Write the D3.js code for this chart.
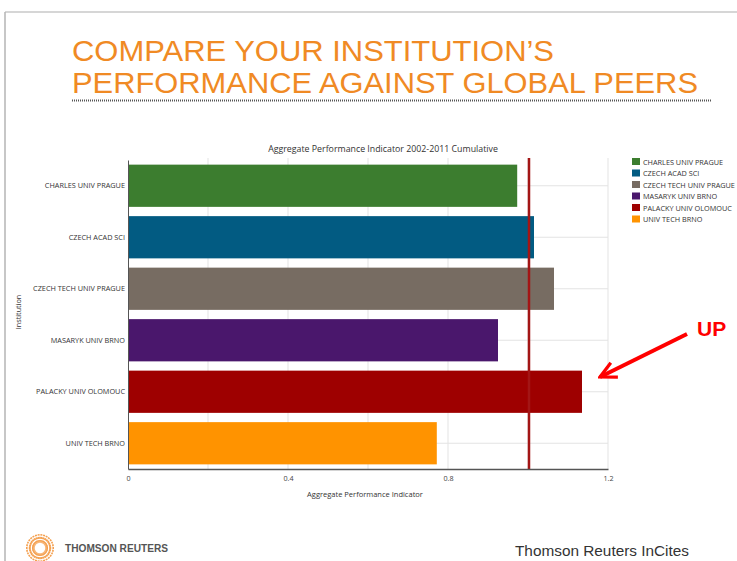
<!DOCTYPE html>
<html>
<head>
<meta charset="utf-8">
<script src="https://cdn.jsdelivr.net/npm/d3@7"></script>
<style>
  body { margin: 0; background: #fff; }
  svg { display: block; }
</style>
</head>
<body>
<div id="chart"></div>
<script>
// data
const institutions = ["CHARLES UNIV PRAGUE", "CZECH ACAD SCI", "CZECH TECH UNIV PRAGUE",
                      "MASARYK UNIV BRNO", "PALACKY UNIV OLOMOUC", "UNIV TECH BRNO"];
const values = [0.973, 1.015, 1.065, 0.925, 1.135, 0.772];
const barColors = ["#3c7d2f", "#025b82", "#776c62", "#4a176c", "#9e0000", "#ff9300"];
const xTicks = [0, 0.4, 0.8, 1.2];
const baseline = 1.0;

const W = 737, H = 561;
const svg = d3.select("#chart").append("svg")
    .attr("width", W).attr("height", H);

// slide frame
svg.append("line").attr("x1", 5).attr("x2", W).attr("y1", 12).attr("y2", 12)
    .attr("stroke", "#c8c8c8").attr("stroke-width", 1.5);
svg.append("line").attr("x1", 5).attr("x2", 5).attr("y1", 12).attr("y2", H)
    .attr("stroke", "#b4b4b4").attr("stroke-width", 1.5);

// slide heading
const head = svg.append("g")
    .attr("font-family", "'Liberation Sans Narrow', 'Liberation Sans', Arial, sans-serif")
    .attr("fill", "#f08a24").attr("font-size", 29);
head.append("text").attr("x", 72).attr("y", 61)
    .attr("textLength", 482).attr("lengthAdjust", "spacingAndGlyphs")
    .text("COMPARE YOUR INSTITUTION\u2019S");
head.append("text").attr("x", 72).attr("y", 93)
    .attr("textLength", 626).attr("lengthAdjust", "spacingAndGlyphs")
    .text("PERFORMANCE AGAINST GLOBAL PEERS");
svg.append("line").attr("x1", 72).attr("x2", 712).attr("y1", 100.5).attr("y2", 100.5)
    .attr("stroke", "#555").attr("stroke-width", 2).attr("stroke-dasharray", "1,1");

// chart area
const margin = {top: 160, left: 128, right: 129, bottom: 92};
const x = d3.scaleLinear().domain([0, 1.2]).range([margin.left, W - margin.right]);
const y = d3.scaleBand().domain(institutions)
    .range([margin.top, H - margin.bottom])
    .paddingInner(0.18).paddingOuter(0.09);

const chartFont = "'Open Sans', 'DejaVu Sans', sans-serif";

svg.append("text")
    .attr("x", 383).attr("y", 152)
    .attr("text-anchor", "middle")
    .attr("font-family", chartFont).attr("font-size", 8.8).attr("fill", "#333")
    .text("Aggregate Performance Indicator 2002-2011 Cumulative");

// gridlines
svg.append("g").selectAll("line")
    .data(d3.range(0.2, 1.21, 0.2))
    .join("line")
    .attr("x1", d => x(d)).attr("x2", d => x(d))
    .attr("y1", margin.top - 2).attr("y2", H - margin.bottom)
    .attr("stroke", "#e3e3e3");
svg.append("g").selectAll("line")
    .data(institutions)
    .join("line")
    .attr("x1", x(0)).attr("x2", x(1.2))
    .attr("y1", d => y(d) + y.bandwidth() / 2).attr("y2", d => y(d) + y.bandwidth() / 2)
    .attr("stroke", "#e3e3e3");

// bars
svg.append("g").selectAll("rect")
    .data(institutions)
    .join("rect")
    .attr("x", x(0))
    .attr("y", d => y(d))
    .attr("width", (d, i) => x(values[i]) - x(0))
    .attr("height", y.bandwidth())
    .attr("fill", (d, i) => barColors[i]);

// reference line at 1.0
svg.append("line")
    .attr("x1", x(baseline) + 1).attr("x2", x(baseline) + 1)
    .attr("y1", margin.top - 2).attr("y2", H - margin.bottom)
    .attr("stroke", "#a31515").attr("stroke-width", 2.5);

// axes
const xAxis = svg.append("g")
    .attr("transform", `translate(0,${H - margin.bottom})`)
    .call(d3.axisBottom(x).tickValues(xTicks).tickSize(0).tickPadding(7).tickFormat(d3.format("")));
xAxis.select(".domain").attr("stroke", "#555").attr("stroke-width", 1.5);
xAxis.selectAll("text").attr("font-family", chartFont).attr("font-size", 7.2).attr("fill", "#444");

const yAxis = svg.append("g")
    .attr("transform", `translate(${margin.left},0)`)
    .call(d3.axisLeft(y).tickSize(0).tickPadding(3));
yAxis.select(".domain").attr("stroke", "#555").attr("stroke-width", 1);
yAxis.selectAll("text").attr("font-family", chartFont).attr("font-size", 7.3).attr("fill", "#333");

svg.append("text")
    .attr("x", 365).attr("y", 497)
    .attr("text-anchor", "middle")
    .attr("font-family", chartFont).attr("font-size", 7.5).attr("fill", "#333")
    .text("Aggregate Performance Indicator");
svg.append("text")
    .attr("transform", "translate(21,312) rotate(-90)")
    .attr("text-anchor", "middle")
    .attr("font-family", chartFont).attr("font-size", 7.2).attr("fill", "#333")
    .text("Institution");

// legend
const legend = svg.append("g").attr("transform", "translate(632,158)");
const rows = legend.selectAll("g").data(institutions).join("g")
    .attr("transform", (d, i) => `translate(0,${i * 11.5})`);
rows.append("rect").attr("width", 8).attr("height", 7)
    .attr("fill", (d, i) => barColors[i]);
rows.append("text").attr("x", 11).attr("y", 6.5)
    .attr("font-family", chartFont).attr("font-size", 7.3).attr("fill", "#333")
    .text(d => d);

// "UP" annotation
svg.append("defs").append("marker")
    .attr("id", "head").attr("viewBox", "0 0 10 10")
    .attr("refX", 9).attr("refY", 5)
    .attr("markerWidth", 5).attr("markerHeight", 5)
    .attr("orient", "auto")
    .append("path").attr("d", "M1,1 L9,5 L1,9")
    .attr("fill", "none").attr("stroke", "#ff0000").attr("stroke-width", 1.6);
svg.append("line")
    .attr("x1", 687).attr("y1", 334).attr("x2", 600).attr("y2", 377)
    .attr("stroke", "#ff0000").attr("stroke-width", 4)
    .attr("marker-end", "url(#head)");
svg.append("text").attr("x", 697).attr("y", 336)
    .attr("font-family", "'Liberation Sans', Arial, sans-serif")
    .attr("font-weight", "bold").attr("font-size", 21).attr("fill", "#ff0000")
    .text("UP");

// footer logo
const logo = svg.append("g").attr("transform", "translate(40,548)");
logo.selectAll("line").data(d3.range(0, 360, 12)).join("line")
    .attr("x1", d => 6 * Math.cos(d * Math.PI / 180)).attr("y1", d => 6 * Math.sin(d * Math.PI / 180))
    .attr("x2", d => 14 * Math.cos(d * Math.PI / 180)).attr("y2", d => 14 * Math.sin(d * Math.PI / 180))
    .attr("stroke", "#f4a050").attr("stroke-width", 2).attr("stroke-dasharray", "2,1.2");
logo.append("circle").attr("r", 6).attr("fill", "#fff")
    .attr("stroke", "#f7b77a").attr("stroke-width", 1.5);
svg.append("text").attr("x", 65).attr("y", 552)
    .attr("font-family", "'Liberation Sans', Arial, sans-serif").attr("font-weight", "bold")
    .attr("font-size", 10).attr("fill", "#555")
    .attr("textLength", 103).attr("lengthAdjust", "spacingAndGlyphs")
    .text("THOMSON REUTERS");
svg.append("text").attr("x", 515).attr("y", 556)
    .attr("font-family", "'Liberation Sans', Arial, sans-serif")
    .attr("font-size", 15).attr("fill", "#333")
    .attr("textLength", 174).attr("lengthAdjust", "spacingAndGlyphs")
    .text("Thomson Reuters InCites");
</script>
</body>
</html>
